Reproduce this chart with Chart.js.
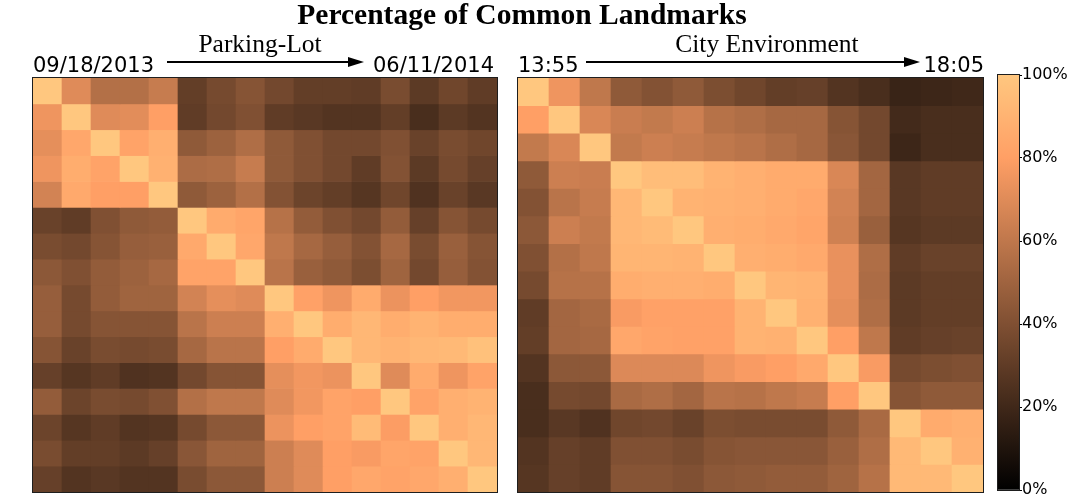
<!DOCTYPE html>
<html><head><meta charset="utf-8">
<script src="https://cdn.jsdelivr.net/npm/chart.js@4.4.1/dist/chart.umd.min.js"></script>
<style>
html,body{margin:0;padding:0;background:#fff;}
#wrap{position:relative;width:1075px;height:500px;overflow:hidden;background:#fff;}
canvas{position:absolute;}
svg{position:absolute;left:0;top:0;pointer-events:none;}
</style></head><body>
<div id="wrap">
<canvas id="leftMap" width="466" height="416" style="left:32px;top:77px"></canvas>
<canvas id="rightMap" width="467" height="416" style="left:517px;top:77px"></canvas>
<canvas id="cbar" width="78" height="435" style="left:997px;top:65px"></canvas>
<svg width="1075" height="500" xmlns="http://www.w3.org/2000/svg">
  <text id="tTitle" x="522" y="24" text-anchor="middle" font-family="Liberation Serif" font-weight="bold" font-size="29.5" fill="#000"></text>
  <text id="tLeftName" x="260" y="52" text-anchor="middle" font-family="Liberation Serif" font-size="25.5" fill="#000"></text>
  <text id="tRightName" x="767" y="52" text-anchor="middle" font-family="Liberation Serif" font-size="25.5" fill="#000"></text>
  <text id="tLeftStart" x="33" y="72" text-anchor="start" font-family="DejaVu Sans" font-size="21" fill="#000"></text>
  <text id="tLeftEnd" x="494" y="72" text-anchor="end" font-family="DejaVu Sans" font-size="21" fill="#000"></text>
  <text id="tRightStart" x="518" y="72" text-anchor="start" font-family="DejaVu Sans" font-size="21" fill="#000"></text>
  <text id="tRightEnd" x="984" y="72" text-anchor="end" font-family="DejaVu Sans" font-size="21" fill="#000"></text>
  <line x1="167" y1="62" x2="350" y2="62" stroke="#000" stroke-width="2"/>
  <polygon points="364,62 348,57 348,67" fill="#000"/>
  <line x1="586" y1="62" x2="906" y2="62" stroke="#000" stroke-width="2"/>
  <polygon points="920,62 904,57 904,67" fill="#000"/>
</svg>
</div>
<script>
// ---- text ----
const chartTitle = 'Percentage of Common Landmarks';
const leftName = 'Parking-Lot';
const leftStart = '09/18/2013';
const leftEnd = '06/11/2014';
const rightName = 'City Environment';
const rightStart = '13:55';
const rightEnd = '18:05';
const colorbarTicks = [0, 20, 40, 60, 80, 100];

// ---- data: percentage of common landmarks (row x column) ----
const parkingLot = [
  [100, 70, 56, 56, 62, 31, 37, 42, 36, 31, 31, 30, 38, 29, 35, 30],
  [ 75,100, 70, 71, 80, 30, 36, 40, 30, 28, 26, 26, 31, 23, 29, 26],
  [ 72, 84,100, 82, 88, 45, 49, 55, 45, 40, 36, 36, 40, 33, 38, 35],
  [ 75, 87, 82,100, 89, 54, 55, 62, 45, 40, 36, 30, 41, 29, 37, 32],
  [ 66, 85, 80, 80,100, 45, 49, 56, 41, 34, 31, 27, 35, 25, 33, 28],
  [ 33, 30, 40, 45, 46,100, 86, 83, 57, 46, 40, 36, 46, 32, 42, 37],
  [ 38, 36, 42, 47, 48, 85,100, 84, 60, 52, 47, 41, 52, 38, 48, 42],
  [ 44, 40, 46, 49, 52, 82, 82,100, 58, 48, 45, 39, 50, 36, 47, 41],
  [ 47, 37, 46, 50, 50, 66, 72, 70,100, 81, 75, 86, 74, 80, 76, 76],
  [ 47, 37, 42, 42, 42, 58, 64, 64, 88,100, 87, 92, 87, 90, 87, 87],
  [ 42, 33, 38, 37, 38, 52, 58, 58, 80, 86,100, 92, 90, 92, 93, 97],
  [ 32, 27, 30, 25, 26, 36, 42, 42, 72, 76, 74,100, 70, 86, 75, 82],
  [ 46, 34, 38, 37, 40, 56, 60, 60, 70, 76, 82, 80,100, 82, 88, 90],
  [ 34, 27, 30, 26, 27, 37, 44, 44, 74, 80, 82, 94, 79,100, 88, 92],
  [ 38, 31, 31, 29, 32, 43, 50, 50, 64, 70, 80, 78, 83, 82,100, 92],
  [ 32, 26, 28, 26, 26, 38, 44, 44, 64, 70, 80, 84, 82, 84, 88,100]
];

const cityEnvironment = [
  [100, 75, 60, 45, 41, 45, 39, 35, 31, 32, 26, 23, 18, 19, 20],
  [ 80,100, 68, 63, 61, 64, 57, 55, 52, 52, 42, 36, 21, 23, 23],
  [ 61, 68,100, 61, 64, 62, 60, 58, 55, 52, 43, 36, 19, 23, 23],
  [ 45, 64, 63,100, 95, 95, 90, 88, 86, 86, 68, 51, 28, 30, 30],
  [ 41, 58, 62, 92,100, 90, 89, 88, 86, 84, 66, 51, 28, 30, 30],
  [ 44, 64, 61, 92, 94,100, 88, 87, 85, 83, 65, 48, 27, 29, 29],
  [ 40, 56, 60, 91, 91, 90,100, 88, 87, 85, 73, 55, 30, 33, 33],
  [ 37, 57, 57, 87, 88, 88, 87,100, 91, 90, 73, 54, 29, 31, 31],
  [ 30, 51, 53, 78, 81, 81, 81, 90,100, 89, 72, 55, 29, 31, 31],
  [ 31, 51, 52, 84, 82, 81, 81, 90, 89,100, 80, 60, 30, 32, 33],
  [ 26, 44, 44, 69, 69, 69, 75, 78, 80, 85,100, 78, 37, 39, 40],
  [ 23, 37, 36, 53, 55, 51, 58, 57, 60, 62, 80,100, 42, 45, 45],
  [ 23, 28, 25, 35, 36, 33, 39, 38, 38, 38, 45, 53,100, 86, 88],
  [ 26, 32, 30, 40, 40, 38, 42, 43, 43, 43, 48, 55, 93,100, 89],
  [ 27, 32, 30, 42, 42, 40, 44, 45, 46, 46, 50, 57, 93, 93,100]
];

document.getElementById('tTitle').textContent = chartTitle;
document.getElementById('tLeftName').textContent = leftName;
document.getElementById('tLeftStart').textContent = leftStart;
document.getElementById('tLeftEnd').textContent = leftEnd;
document.getElementById('tRightName').textContent = rightName;
document.getElementById('tRightStart').textContent = rightStart;
document.getElementById('tRightEnd').textContent = rightEnd;

// matplotlib "copper" colormap
function copper(p) {
  const v = Math.max(0, Math.min(1, p / 100));
  const r = Math.round(255 * Math.min(1, 1.25 * v));
  const g = Math.round(255 * 0.7812 * v);
  const b = Math.round(255 * 0.4975 * v);
  return 'rgb(' + r + ',' + g + ',' + b + ')';
}

const frame = {
  id: 'frame',
  afterDraw(chart) {
    const { ctx, chartArea: a } = chart;
    ctx.save();
    ctx.strokeStyle = '#1e1e1e';
    ctx.lineWidth = 1;
    ctx.strokeRect(a.left - 0.5, a.top - 0.5, a.right - a.left + 1, a.bottom - a.top + 1);
    ctx.restore();
  }
};

function heatmap(id, matrix) {
  const n = matrix.length;
  const labels = matrix[0].map((_, i) => String(i + 1));
  const datasets = matrix.map((row, r) => ({
    label: 'row ' + (r + 1),
    data: row.map(() => [r, r + 1]),
    backgroundColor: row.map(copper),
    borderWidth: 0,
    barPercentage: 1,
    categoryPercentage: 1
  }));
  new Chart(document.getElementById(id), {
    type: 'bar',
    data: { labels, datasets },
    options: {
      responsive: false,
      animation: false,
      layout: { padding: 1 },
      plugins: { legend: { display: false }, tooltip: { enabled: false } },
      scales: {
        x: { display: false, stacked: true },
        y: { display: false, stacked: false, min: 0, max: n, reverse: true }
      }
    },
    plugins: [frame]
  });
}

heatmap('leftMap', parkingLot);
heatmap('rightMap', cityEnvironment);

new Chart(document.getElementById('cbar'), {
  type: 'bar',
  data: {
    labels: ['scale'],
    datasets: [{
      data: [[colorbarTicks[0], colorbarTicks[colorbarTicks.length - 1]]],
      backgroundColor: (c) => {
        const a = c.chart.chartArea;
        if (!a) return copper(50);
        const g = c.chart.ctx.createLinearGradient(0, a.bottom, 0, a.top);
        g.addColorStop(0, copper(0));
        g.addColorStop(0.8, copper(80));
        g.addColorStop(1, copper(100));
        return g;
      },
      borderWidth: 0,
      barPercentage: 1,
      categoryPercentage: 1
    }]
  },
  options: {
    responsive: false,
    animation: false,
    layout: { padding: { left: 1, top: 10, bottom: 10, right: 0 } },
    plugins: { legend: { display: false }, tooltip: { enabled: false } },
    scales: {
      x: { display: false },
      y: {
        position: 'right',
        min: 0, max: 100,
        afterFit(s) { s.width = 56; },
        afterBuildTicks(s) { s.ticks = colorbarTicks.map(v => ({ value: v })); },
        ticks: {
          callback: v => v + '%',
          color: '#000',
          font: { family: 'DejaVu Sans', size: 16 },
          padding: 0
        },
        grid: { drawOnChartArea: false, drawTicks: true, tickLength: 3, color: '#000' },
        border: { display: true, color: '#000' }
      }
    }
  },
  plugins: [frame]
});
</script>
</body></html>
